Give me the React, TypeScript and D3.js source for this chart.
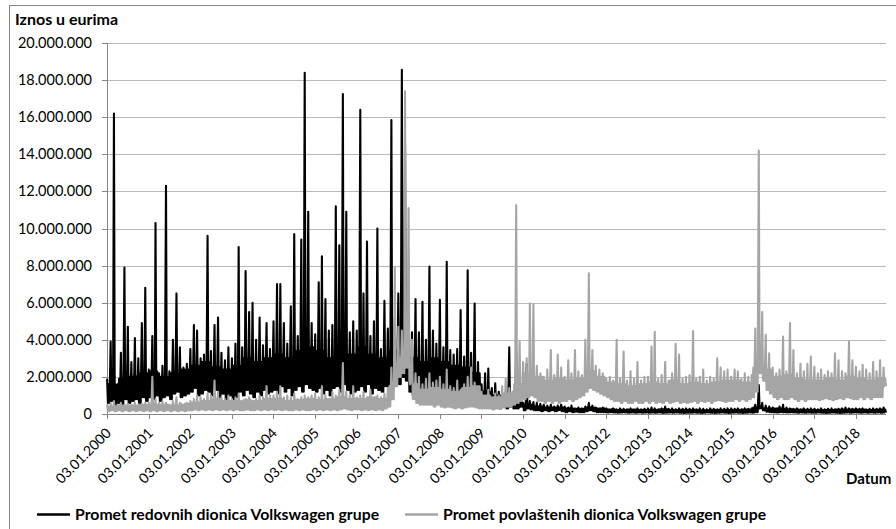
import React from "react";
import * as d3 from "d3";

// Monthly readings (millions EUR), Jan 2000 - Sep 2018: peak of the month and floor of the month
const redovneHi = [
  1.9, 3.9, 16.2, 1.6, 3.3, 7.9, 4.7, 2.8, 4.1, 3.0, 4.9, 6.8,
  2.4, 4.2, 10.3, 2.2, 2.6, 12.3, 2.3, 4.0, 6.5, 3.6, 2.5, 2.7,
  3.5, 4.8, 4.5, 3.0, 3.2, 9.6, 3.4, 4.8, 5.2, 3.3, 2.9, 3.6,
  3.0, 3.8, 9.0, 3.6, 7.7, 5.5, 6.0, 4.0, 5.2, 3.7, 4.9, 3.5,
  5.0, 7.0, 7.0, 4.9, 3.8, 5.8, 9.7, 4.2, 9.4, 18.4, 10.9, 4.9,
  4.3, 7.1, 8.5, 6.2, 4.5, 4.8, 11.2, 9.1, 17.25, 10.9, 4.4, 5.0,
  4.5, 16.4, 6.5, 9.3, 4.2, 5.0, 10.0, 3.5, 6.1, 4.6, 15.85, 5.2,
  6.5, 18.55, 14.55, 5.0, 4.4, 6.2, 4.4, 6.05, 4.0, 7.95, 4.5, 3.8,
  6.15, 3.6, 8.2, 3.45, 3.2, 3.5, 5.6, 3.1, 7.75, 3.3, 5.95, 2.8,
  1.6, 2.2, 2.45, 1.4, 1.65, 1.2, 1.1, 1.0, 3.6, 1.1, 3.3, 1.0,
  0.6, 2.7, 0.7, 0.65, 0.6, 0.55, 0.5, 0.45, 0.5, 0.4, 0.45, 0.5,
  0.4, 0.35, 0.45, 0.3, 0.35, 0.3, 0.4, 0.6, 0.45, 0.35, 0.3, 0.35,
  0.3, 0.25, 0.3, 0.25, 0.3, 0.28, 0.25, 0.3, 0.25, 0.3, 0.25, 0.28,
  0.3, 0.35, 0.3, 0.25, 0.3, 0.4, 0.28, 0.3, 0.25, 0.3, 0.28, 0.3,
  0.28, 0.3, 0.25, 0.3, 0.28, 0.25, 0.3, 0.28, 0.25, 0.3, 0.28, 0.3,
  0.3, 0.28, 0.3, 0.25, 0.3, 0.28, 0.3, 0.5, 1.56, 0.6, 0.45, 0.4,
  0.35, 0.3, 0.4, 0.5, 0.35, 0.3, 0.28, 0.3, 0.25, 0.3, 0.28, 0.3,
  0.28, 0.25, 0.3, 0.25, 0.28, 0.3, 0.25, 0.28, 0.3, 0.35, 0.3, 0.28,
  0.3, 0.28, 0.3, 0.25, 0.28, 0.3, 0.28, 0.3, 0.35,
];
const redovneLo = [
  0.6, 0.7, 0.5, 0.6, 0.5, 0.8, 0.6, 0.7, 0.8, 0.6, 0.9, 0.7,
  0.9, 0.8, 1.0, 0.7, 0.9, 1.0, 0.8, 1.1, 1.2, 0.9, 1.0, 1.1,
  1.2, 1.4, 1.0, 1.1, 1.3, 1.2, 1.0, 1.3, 0.9, 1.1, 0.8, 1.0,
  0.8, 0.9, 1.2, 1.0, 1.3, 1.1, 0.9, 1.2, 1.0, 1.3, 1.1, 1.2,
  1.3, 1.1, 1.5, 1.2, 1.4, 1.0, 1.3, 1.5, 1.2, 1.6, 1.4, 1.3,
  1.2, 1.4, 1.1, 1.3, 1.0, 1.4, 1.5, 1.2, 1.6, 1.3, 1.1, 1.2,
  1.3, 1.5, 1.2, 1.6, 1.1, 1.4, 1.3, 1.2, 1.5, 1.3, 1.8, 1.6,
  1.6, 2.0, 1.8, 1.2, 1.0, 1.3, 1.1, 0.9, 1.2, 1.0, 1.1, 0.9,
  1.0, 0.9, 1.1, 0.8, 0.9, 1.0, 0.8, 0.9, 0.7, 0.8, 0.6, 0.5,
  0.4, 0.5, 0.4, 0.3, 0.4, 0.3, 0.4, 0.3, 0.4, 0.3, 0.3, 0.4,
  0.2, 0.3, 0.25, 0.2, 0.2, 0.15, 0.2, 0.15, 0.2, 0.15, 0.2, 0.15,
  0.1, 0.15, 0.1, 0.12, 0.1, 0.1, 0.15, 0.2, 0.15, 0.1, 0.1, 0.1,
  0.08, 0.1, 0.08, 0.07, 0.08, 0.09, 0.07, 0.08, 0.07, 0.08, 0.07, 0.08,
  0.07, 0.08, 0.07, 0.08, 0.06, 0.07, 0.08, 0.07, 0.08, 0.07, 0.06, 0.07,
  0.07, 0.08, 0.07, 0.06, 0.07, 0.08, 0.07, 0.06, 0.07, 0.08, 0.07, 0.06,
  0.07, 0.08, 0.07, 0.06, 0.07, 0.08, 0.07, 0.1, 0.3, 0.2, 0.12, 0.1,
  0.09, 0.08, 0.1, 0.09, 0.08, 0.09, 0.08, 0.07, 0.08, 0.07, 0.08, 0.07,
  0.07, 0.08, 0.07, 0.06, 0.07, 0.08, 0.07, 0.06, 0.07, 0.08, 0.07, 0.08,
  0.08, 0.07, 0.08, 0.07, 0.08, 0.07, 0.08, 0.07, 0.08,
];
// top of the dense band, one value per quarter (2000 Q1 .. 2018 Q3)
const redovneBandTop = [
  1.6, 1.9, 2.0, 2.2, 2.3, 2.0, 2.2, 2.4, 2.6, 2.8, 2.5, 2.4,
  2.6, 3.0, 2.8, 3.0, 3.2, 3.0, 3.4, 3.6, 3.4, 3.0, 3.5, 3.2,
  3.6, 3.2, 3.0, 3.4, 3.5, 3.0, 2.8, 3.0, 2.8, 2.6, 2.5, 2.2,
  1.2, 1.0, 0.9, 1.1, 0.5, 0.4, 0.35, 0.35, 0.3, 0.28, 0.35, 0.3,
  0.25, 0.22, 0.24, 0.22, 0.22, 0.25, 0.22, 0.22, 0.22, 0.2, 0.22, 0.22,
  0.22, 0.24, 0.35, 0.3, 0.3, 0.26, 0.24, 0.22, 0.22, 0.22, 0.24, 0.24,
  0.24, 0.22, 0.24,
];

const povlasteneHi = [
  0.5, 0.6, 0.7, 0.5, 0.6, 0.5, 0.55, 0.5, 0.6, 0.5, 0.55, 0.6,
  0.6, 2.0, 0.8, 0.6, 0.7, 0.6, 0.5, 0.7, 0.9, 0.6, 0.5, 0.6,
  0.7, 0.8, 1.0, 0.9, 0.8, 1.1, 1.0, 1.8, 1.2, 0.9, 0.8, 1.0,
  0.8, 0.9, 1.1, 0.7, 0.8, 0.9, 0.7, 0.8, 1.0, 0.9, 1.5, 1.0,
  1.0, 1.2, 1.5, 0.9, 1.0, 0.9, 1.1, 0.8, 0.9, 1.0, 0.9, 1.0,
  1.1, 0.9, 1.5, 1.0, 0.8, 1.2, 1.0, 1.3, 2.75, 1.2, 1.0, 1.5,
  0.9, 1.0, 1.2, 0.9, 1.3, 0.9, 1.0, 0.9, 1.1, 1.4, 2.5, 7.9,
  4.7, 4.5, 17.4, 11.1, 4.0, 2.2, 2.0, 1.6, 1.9, 2.2, 1.7, 1.8,
  2.0, 1.6, 2.4, 1.5, 1.4, 1.8, 1.3, 1.6, 2.0, 2.5, 1.7, 1.5,
  1.2, 1.0, 1.3, 0.9, 1.1, 1.0, 1.5, 1.9, 1.4, 1.2, 11.27, 3.9,
  2.8, 3.0, 5.97, 5.9, 2.6, 2.2, 2.0, 2.4, 3.45, 2.1, 3.2, 2.5,
  2.0, 2.9, 2.2, 3.45, 2.3, 2.1, 4.0, 7.58, 3.45, 2.6, 2.4, 2.2,
  1.9, 2.0, 1.8, 4.0, 1.9, 3.36, 1.8, 2.3, 1.9, 2.8, 1.8, 2.0,
  2.0, 3.63, 4.43, 1.9, 2.1, 2.8, 1.8, 2.2, 3.78, 3.2, 1.9, 2.0,
  2.1, 4.47, 1.9, 2.0, 2.4, 1.8, 2.0, 1.9, 3.0, 2.5, 2.3, 2.4,
  2.0, 2.4, 2.3, 1.9, 2.2, 2.0, 2.1, 4.6, 14.2, 5.5, 4.27, 3.27,
  2.5, 2.2, 2.4, 4.17, 2.3, 4.9, 3.45, 2.2, 2.7, 2.3, 2.7, 3.1,
  2.55, 2.2, 2.4, 2.1, 2.3, 2.2, 3.27, 2.9, 2.3, 2.2, 3.9, 2.9,
  2.55, 2.3, 2.65, 2.4, 2.2, 2.8, 2.3, 2.9, 2.5,
];
const povlasteneLo = [
  0.15, 0.2, 0.15, 0.2, 0.15, 0.2, 0.15, 0.2, 0.15, 0.2, 0.15, 0.2,
  0.15, 0.2, 0.15, 0.2, 0.15, 0.2, 0.15, 0.2, 0.15, 0.2, 0.15, 0.2,
  0.2, 0.25, 0.2, 0.25, 0.2, 0.25, 0.2, 0.25, 0.2, 0.25, 0.2, 0.25,
  0.2, 0.25, 0.2, 0.2, 0.25, 0.2, 0.2, 0.25, 0.2, 0.25, 0.2, 0.25,
  0.2, 0.25, 0.2, 0.25, 0.2, 0.2, 0.25, 0.2, 0.25, 0.2, 0.2, 0.25,
  0.2, 0.25, 0.2, 0.25, 0.2, 0.25, 0.2, 0.25, 0.3, 0.25, 0.2, 0.25,
  0.25, 0.2, 0.25, 0.2, 0.25, 0.2, 0.25, 0.2, 0.3, 0.4, 0.8, 1.5,
  2.0, 2.2, 2.5, 1.8, 0.8, 0.6, 0.5, 0.5, 0.5, 0.5, 0.4, 0.5,
  0.4, 0.35, 0.4, 0.35, 0.3, 0.35, 0.3, 0.35, 0.4, 0.4, 0.35, 0.3,
  0.3, 0.3, 0.3, 0.25, 0.3, 0.3, 0.35, 0.4, 0.4, 0.5, 0.6, 0.7,
  0.8, 0.9, 1.0, 0.9, 0.7, 0.7, 0.6, 0.7, 0.6, 0.7, 0.6, 0.7,
  0.7, 0.8, 0.7, 0.8, 0.9, 1.0, 1.2, 1.4, 1.3, 1.2, 1.1, 1.0,
  0.9, 0.8, 0.7, 0.7, 0.6, 0.7, 0.6, 0.6, 0.7, 0.6, 0.6, 0.7,
  0.6, 0.7, 0.6, 0.65, 0.6, 0.7, 0.6, 0.65, 0.7, 0.6, 0.65, 0.6,
  0.65, 0.7, 0.6, 0.7, 0.65, 0.7, 0.6, 0.7, 0.75, 0.7, 0.65, 0.7,
  0.7, 0.8, 0.7, 0.8, 0.7, 0.8, 0.9, 1.2, 2.2, 1.8, 1.3, 1.1,
  0.9, 0.8, 0.9, 0.8, 0.8, 0.9, 0.8, 0.7, 0.8, 0.7, 0.8, 0.8,
  0.8, 0.75, 0.8, 0.85, 0.8, 0.75, 0.8, 0.85, 0.8, 0.9, 0.85, 0.8,
  0.8, 0.9, 0.8, 0.9, 0.8, 0.9, 0.9, 0.9, 1.5,
];
const povlasteneBandTop = [
  0.4, 0.45, 0.45, 0.5, 0.5, 0.5, 0.45, 0.55, 0.6, 0.7, 0.8, 0.7,
  0.7, 0.75, 0.7, 0.8, 0.8, 0.7, 0.75, 0.8, 0.75, 0.8, 0.9, 0.8,
  0.8, 0.9, 0.8, 1.5, 3.0, 1.6, 1.3, 1.4, 1.3, 1.2, 1.4, 1.5,
  1.0, 0.9, 1.1, 1.6, 2.2, 2.0, 1.8, 1.9, 1.8, 1.9, 2.3, 2.0,
  1.7, 1.6, 1.5, 1.6, 1.7, 1.6, 1.8, 1.6, 1.7, 1.6, 1.7, 1.8,
  1.8, 1.7, 2.5, 2.4, 2.0, 2.1, 1.9, 1.8, 1.8, 1.9, 1.8, 2.0,
  1.9, 1.8, 1.9,
];

const tickYears = d3.range(2000, 2019);
const yTicks = [0, 2, 4, 6, 8, 10, 12, 14, 16, 18, 20];
const seriesNames = ["Promet redovnih dionica Volkswagen grupe", "Promet povlaštenih dionica Volkswagen grupe"];
const seriesColors = ["#000000", "#a5a5a5"];

type Pt = [Date, number];

function buildPoints(hi: number[], lo: number[], top: number[]): Pt[] {
  const pts: Pt[] = [];
  hi.forEach((h, i) => {
    const q = Math.floor(i / 3);
    pts.push([new Date(2000, i, 4), h]);
    pts.push([new Date(2000, i, 11), lo[i]]);
    pts.push([new Date(2000, i, 18), top[q]]);
    pts.push([new Date(2000, i, 25), lo[i]]);
  });
  return pts;
}

const W = 896;
const H = 529;
const left = 107;
const right = 886;
const top = 43;
const bottom = 414;

export default function App() {
  const x = d3.scaleTime().domain([new Date(2000, 0, 3), new Date(2018, 8, 25)]).range([left, right]);
  const y = d3.scaleLinear().domain([0, 20]).range([bottom, top]);
  const fmt = d3.formatLocale({ decimal: ",", thousands: ".", grouping: [3], currency: ["", "€"] }).format(",");
  const dateFmt = d3.timeFormat("%d.%m.%Y");
  const line = d3.line<Pt>().x((d) => x(d[0])).y((d) => y(d[1]));
  const black = buildPoints(redovneHi, redovneLo, redovneBandTop);
  const gray = buildPoints(povlasteneHi, povlasteneLo, povlasteneBandTop);
  const font = "Lato, 'Open Sans', sans-serif";

  return (
    <svg width={W} height={H} style={{ position: "absolute", left: 0, top: 0, background: "#fff" }} fontFamily={font}>
      <rect x={0} y={0} width={W} height={H} fill="#fff" />
      <rect x={9.5} y={5.5} width={W + 20} height={H + 20} fill="none" stroke="#868686" strokeWidth={1} />
      <text x={15} y={25} fontSize={16} fontWeight="bold" fill="#000">Iznos u eurima</text>
      {yTicks.map((t) => (
        <g key={t}>
          {t > 0 && <line x1={left} x2={right} y1={Math.round(y(t)) + 0.5} y2={Math.round(y(t)) + 0.5} stroke="#b8b8b8" strokeWidth={1} />}
          <line x1={left - 5} x2={left} y1={Math.round(y(t)) + 0.5} y2={Math.round(y(t)) + 0.5} stroke="#868686" />
          <text x={92} y={y(t) + 5} textAnchor="end" fontSize={14.5} fill="#000">{fmt(t * 1e6)}</text>
        </g>
      ))}
      <line x1={left + 0.5} x2={left + 0.5} y1={top} y2={bottom} stroke="#868686" />
      <path d={line(black) || ""} fill="none" stroke={seriesColors[0]} strokeWidth={2.1} strokeLinejoin="round" />
      <path d={line(gray) || ""} fill="none" stroke={seriesColors[1]} strokeWidth={2.1} strokeLinejoin="round" />
      <line x1={left} x2={right} y1={bottom + 0.5} y2={bottom + 0.5} stroke="#868686" />
      {tickYears.map((yr) => {
        const d = new Date(yr, 0, 3);
        const tx = Math.round(x(d)) + 0.5;
        return (
          <g key={yr}>
            <line x1={tx} x2={tx} y1={bottom} y2={bottom + 5} stroke="#868686" />
            <text transform={`translate(${tx + 4.5},${bottom + 20}) rotate(-45)`} textAnchor="end" fontSize={14} fill="#000">{dateFmt(d)}</text>
          </g>
        );
      })}
      <text x={846} y={484} fontSize={15} fontWeight="bold" fill="#000">Datum</text>
      <line x1={37} x2={70} y1={514.5} y2={514.5} stroke={seriesColors[0]} strokeWidth={2.5} />
      <text x={75} y={520} fontSize={15.8} fontWeight="bold" fill="#000">{seriesNames[0]}</text>
      <line x1={405} x2={438} y1={514.5} y2={514.5} stroke={seriesColors[1]} strokeWidth={2.5} />
      <text x={443} y={520} fontSize={15.8} fontWeight="bold" fill="#000">{seriesNames[1]}</text>
    </svg>
  );
}
